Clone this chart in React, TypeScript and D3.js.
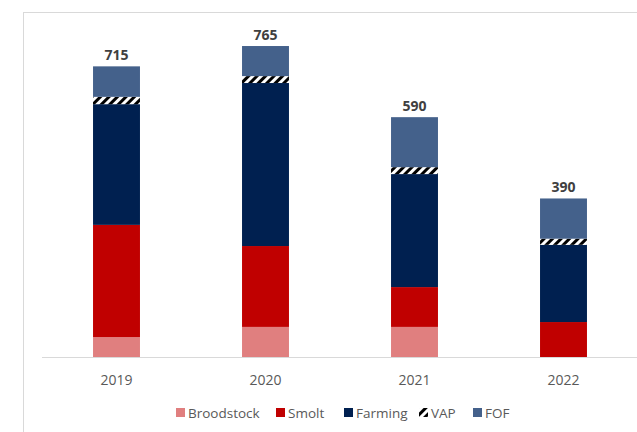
import React from 'react';
import * as d3 from 'd3';

const years = ['2019', '2020', '2021', '2022'];
const broodstock = [49, 74, 74, 0];
const smolt = [276, 199, 98, 86];
const farming = [297, 401, 278, 190];
const vap = [18, 17, 17, 15];
const fof = [75, 74, 123, 99];
const totals = [715, 765, 590, 390];

const seriesKeys = ['Broodstock', 'Smolt', 'Farming', 'VAP', 'FOF'];
const seriesColors: Record<string, string> = {
  Broodstock: '#e07f7f',
  Smolt: '#c00000',
  Farming: '#002050',
  VAP: 'url(#vapHatch)',
  FOF: '#44618b',
};
const legendX = [176, 276, 344, 419, 473];

export default function App() {
  const W = 637, H = 432;
  const rows = years.map((y, i) => ({
    year: y,
    Broodstock: broodstock[i],
    Smolt: smolt[i],
    Farming: farming[i],
    VAP: vap[i],
    FOF: fof[i],
  }));
  const stacked = d3.stack<any>().keys(seriesKeys)(rows);
  const x = d3.scaleBand().domain(years).range([42, 638]).paddingInner(0.685).paddingOuter(0.3425);
  const y = d3.scaleLinear().domain([0, 800]).range([357, 357 - 800 * 0.4065]);
  const font = "'Open Sans', 'Noto Sans', sans-serif";

  return (
    <svg width={W} height={H} style={{ position: 'absolute', left: 0, top: 0, background: '#fff' }}>
      <defs>
        <pattern id="vapHatch" patternUnits="userSpaceOnUse" width="6" height="6" patternTransform="rotate(45)">
          <rect x="0" y="0" width="6" height="6" fill="#ffffff" />
          <rect x="0" y="0" width="3" height="6" fill="#000000" />
        </pattern>
      </defs>
      <rect x={23.5} y={12.5} width={700} height={500} fill="#fff" stroke="#d9d9d9" strokeWidth={1} />
      {stacked.map((s) => (
        <g key={s.key}>
          {s.map((d, i) => {
            const h = y(d[0]) - y(d[1]);
            if (h <= 0) return null;
            return (
              <rect
                key={i}
                x={x(years[i])}
                y={y(d[1])}
                width={x.bandwidth()}
                height={h}
                fill={seriesColors[s.key]}
              />
            );
          })}
        </g>
      ))}
      <line x1={42} x2={637} y1={357.5} y2={357.5} stroke="#d9d9d9" strokeWidth={1} />
      {years.map((yr, i) => (
        <text
          key={yr}
          x={(x(yr) as number) + x.bandwidth() / 2}
          y={385}
          textAnchor="middle"
          fontFamily={font}
          fontSize={14}
          fill="#595959"
        >
          {yr}
        </text>
      ))}
      {years.map((yr, i) => (
        <text
          key={'t' + yr}
          x={(x(yr) as number) + x.bandwidth() / 2}
          y={y(totals[i]) - 6}
          textAnchor="middle"
          fontFamily={font}
          fontSize={14}
          fontWeight="bold"
          fill="#404040"
        >
          {totals[i]}
        </text>
      ))}
      {seriesKeys.map((k, i) => (
        <g key={'l' + k}>
          <rect x={legendX[i]} y={408} width={9} height={9} fill={seriesColors[k]} />
          <text x={legendX[i] + 12} y={417.5} fontFamily={font} fontSize={13.5} fill="#595959">
            {k}
          </text>
        </g>
      ))}
    </svg>
  );
}
